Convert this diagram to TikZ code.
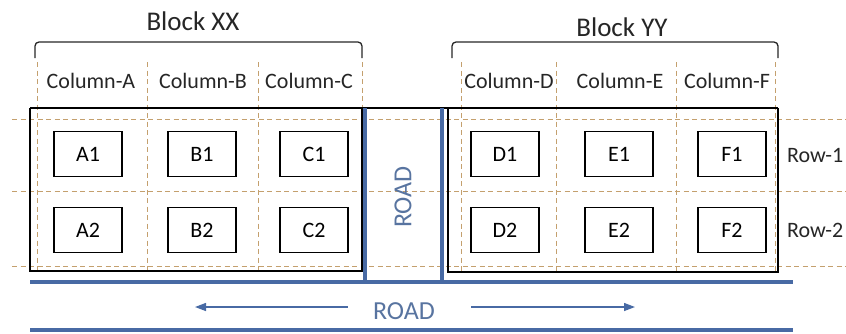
\documentclass[tikz,border=0pt]{standalone}
\usepackage{fontspec}
\setmainfont{Carlito}
\usetikzlibrary{arrows.meta}
\definecolor{roadblue}{RGB}{72,106,164}
\definecolor{roadtext}{RGB}{88,116,160}
\definecolor{gridtan}{RGB}{196,160,110}
\tikzset{
  cell/.style={draw=black, line width=1.4pt, fill=white, minimum width=68pt, minimum height=45pt, inner sep=0pt, font=\fontsize{22}{24}\selectfont},
  collabel/.style={anchor=base, inner sep=0pt, font=\fontsize{22}{24}\selectfont, text=black!85},
  blocklabel/.style={anchor=base, inner sep=0pt, font=\fontsize{27}{30}\selectfont, text=black!85},
  rowlabel/.style={anchor=west, inner sep=0pt, font=\fontsize{22}{24}\selectfont, text=black!85},
  roadlabel/.style={inner sep=0pt, font=\fontsize{26}{28}\selectfont, text=roadtext},
  griddash/.style={draw=gridtan, line width=0.8pt, dash pattern=on 5pt off 3.5pt},
  road/.style={draw=roadblue, line width=3.5pt},
  bracket/.style={draw=black!85, line width=1.3pt, rounded corners=4pt},
  blockframe/.style={draw=black, line width=1.4pt},
  dirarrow/.style={draw=roadblue, line width=1.3pt, -{Triangle[length=11pt,width=8pt]}}
}
\begin{document}
\begin{tikzpicture}[x=1pt,y=-1pt]
\useasboundingbox (0,0) rectangle (846,333);
% grid dashed lines
\foreach \yy in {119,191,266} \draw[griddash] (12,\yy) -- (846,\yy);
\foreach \xx in {37,147,258,362,461,556,676,775} \draw[griddash] (\xx,62) -- (\xx,273);
% block frames
\draw[blockframe] (30,108) |- (362,271) -- (362,108);
\draw[blockframe] (448,108) |- (778,272) -- (778,108);
\draw[black, line width=2.5pt] (30,108) -- (778,108);
% roads
\draw[road] (365,108) -- (365,282);
\draw[road] (442,108) -- (442,282);
\draw[road] (30,282) -- (793,282);
\draw[road] (30,330) -- (793,330);
% brackets
\draw[bracket] (35,58) |- (362,42) -- (362,58);
\draw[bracket] (452,58) |- (778,42) -- (778,58);
% labels
\node[blocklabel] (bxx) at (193,30) {Block XX};
\node[blocklabel] (byy) at (622,36) {Block YY};
\node[collabel] (colA) at (91,88) {Column-A};
\node[collabel] (colB) at (203,88) {Column-B};
\node[collabel] (colC) at (309,88) {Column-C};
\node[collabel] (colD) at (509,88) {Column-D};
\node[collabel] (colE) at (620,88) {Column-E};
\node[collabel] (colF) at (727,88) {Column-F};
% cells
\node[cell] (A1) at (88,154) {A1};
\node[cell] (B1) at (202,154) {B1};
\node[cell] (C1) at (314,154) {C1};
\node[cell] (D1) at (505,154) {D1};
\node[cell] (E1) at (619,154) {E1};
\node[cell] (F1) at (732,154) {F1};
\node[cell] (A2) at (88,230) {A2};
\node[cell] (B2) at (202,230) {B2};
\node[cell] (C2) at (314,230) {C2};
\node[cell] (D2) at (505,230) {D2};
\node[cell] (E2) at (619,230) {E2};
\node[cell] (F2) at (732,230) {F2};
\node[rowlabel] (r1) at (787,155) {Row-1};
\node[rowlabel] (r2) at (787,230) {Row-2};
% road labels
\node[roadlabel, rotate=90] (vroad) at (403,197) {ROAD};
\node[roadlabel] (hroad) at (404,311) {ROAD};
\coordinate (la) at (195,307);
\coordinate (ra) at (635,307);
\draw[dirarrow] (hroad.west) ++(-25,-4) coordinate (ls) -- (la);
\draw[dirarrow] (hroad.east) ++(36,-4) coordinate (rs) -- (ra);
\end{tikzpicture}
\end{document}
